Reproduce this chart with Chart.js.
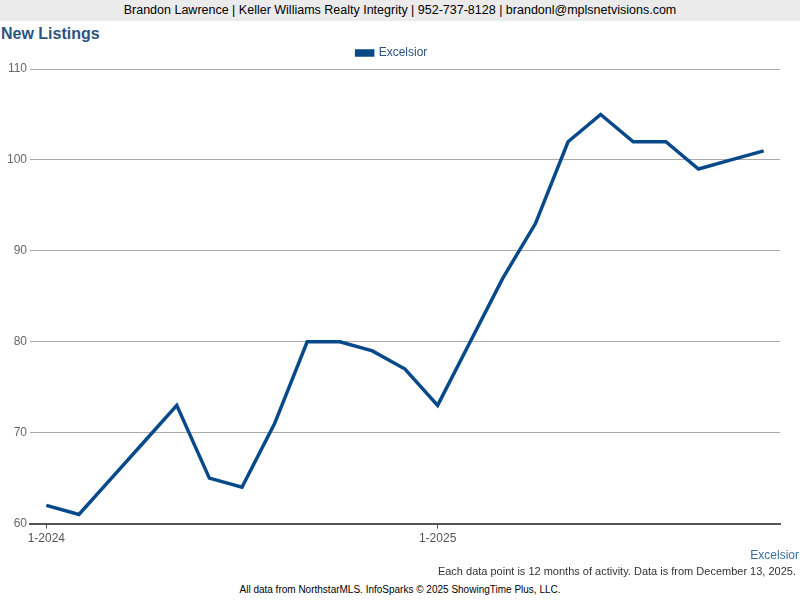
<!DOCTYPE html>
<html>
<head>
<meta charset="utf-8">
<script src="https://cdn.jsdelivr.net/npm/chart.js@4"></script>
<style>
  body { margin: 0; width: 800px; height: 600px; background: #fff; font-family: "Liberation Sans", Arial, sans-serif; position: relative; overflow: hidden; }
  #banner { position: absolute; left: 0; top: 0; width: 800px; height: 21px; background: #ebebeb; text-align: center; font-size: 12.5px; line-height: 21px; color: #000; }
  #title { position: absolute; left: 1px; top: 25px; font-size: 16px; font-weight: bold; color: #2d5480; }
  #wrap { position: absolute; left: 0; top: 41px; width: 800px; height: 508px; }
  #series { position: absolute; right: 1px; top: 548px; font-size: 12px; color: #3a6e9f; }
  #note { position: absolute; right: 4px; top: 565px; font-size: 11px; color: #333; }
  #footer { position: absolute; left: 0; width: 800px; top: 584px; font-size: 10px; text-align: center; color: #000; }
</style>
</head>
<body>
<div id="banner">Brandon Lawrence | Keller Williams Realty Integrity | 952-737-8128 | brandonl@mplsnetvisions.com</div>
<div id="title">New Listings</div>
<div id="wrap"><canvas id="chart"></canvas></div>
<div id="series">Excelsior</div>
<div id="note">Each data point is 12 months of activity. Data is from December 13, 2025.</div>
<div id="footer">All data from NorthstarMLS. InfoSparks © 2025 ShowingTime Plus, LLC.</div>
<script>
// months from 1-2024 through 11-2025
const months = [
  "1-2024", "2-2024", "3-2024", "4-2024", "5-2024", "6-2024", "7-2024", "8-2024",
  "9-2024", "10-2024", "11-2024", "12-2024", "1-2025", "2-2025", "3-2025", "4-2025",
  "5-2025", "6-2025", "7-2025", "8-2025", "9-2025", "10-2025", "11-2025"
];
const excelsior = [62, 61, 65, 69, 73, 65, 64, 71, 80, 80, 79, 77, 73, 80, 87, 93, 102, 105, 102, 102, 99, 100, 101];
const shownTicks = ["1-2024", "1-2025"];

new Chart(document.getElementById("chart"), {
  type: "line",
  data: {
    labels: months,
    datasets: [{
      label: "Excelsior",
      data: excelsior,
      borderColor: "#08498a",
      backgroundColor: "#08498a",
      borderWidth: 3.5,
      pointRadius: 0,
      tension: 0
    }]
  },
  options: {
    responsive: true,
    maintainAspectRatio: false,
    animation: false,
    layout: { padding: { left: 4, right: 20, top: 0, bottom: 0 } },
    plugins: {
      legend: {
        position: "top",
        labels: { boxWidth: 16, boxHeight: 4, padding: 6, color: "#2d5480", font: { family: "Liberation Sans", size: 12 } }
      },
      tooltip: { enabled: false }
    },
    scales: {
      x: {
        offset: true,
        grid: {
          drawOnChartArea: false,
          drawTicks: true,
          tickLength: 5,
          color: ctx => shownTicks.includes(months[ctx.index]) ? "#555" : "rgba(0,0,0,0)"
        },
        border: { color: "#555", width: 2 },
        ticks: {
          autoSkip: false,
          maxRotation: 0,
          color: "#555",
          font: { family: "Liberation Sans", size: 12 },
          callback: function (v) { const l = months[v]; return shownTicks.includes(l) ? l : ""; }
        }
      },
      y: {
        min: 60,
        max: 110,
        ticks: { stepSize: 10, color: "#666", font: { family: "Liberation Sans", size: 12 } },
        grid: { color: "#aaa", drawTicks: false },
        border: { display: false }
      }
    }
  }
});
</script>
</body>
</html>
